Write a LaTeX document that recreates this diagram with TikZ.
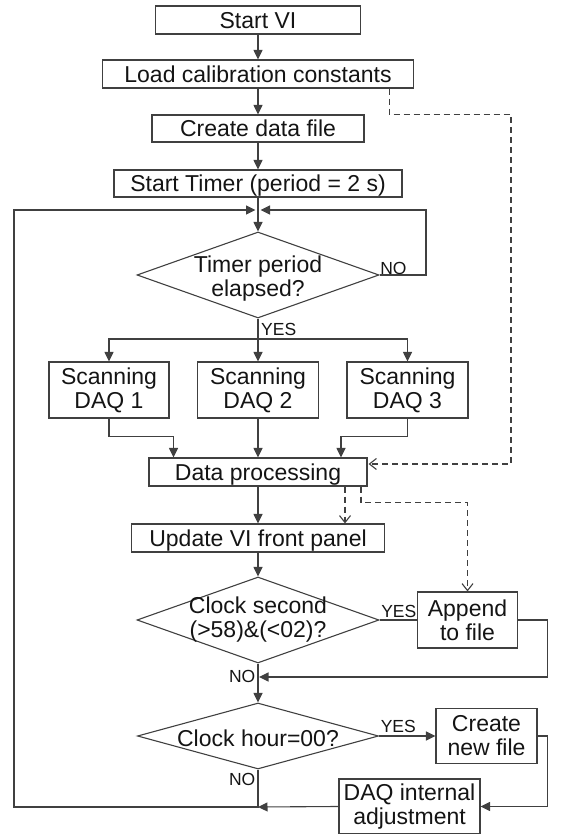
\documentclass[tikz,border=0pt]{standalone}
\usepackage{fontspec}
\setmainfont{Liberation Sans}
\usetikzlibrary{arrows.meta,shapes.geometric}

\begin{document}
\begin{tikzpicture}[x=1pt, y=1pt,
    line/.style={draw=black!75, line width=1.1pt},
    arr/.style={line, -{Triangle[length=9.5pt,width=9pt]}},
    dashline/.style={line, dash pattern=on 6pt off 4pt},
    dasharr/.style={dashline, -{Straight Barb[length=7pt,width=11pt]}},
    box/.style={draw=black!75, line width=1.1pt, rectangle, inner sep=0pt,
        align=center, text=black!92, font=\fontsize{23}{24}\selectfont},
    onebox/.style={box, text height=16.5pt, text depth=0pt},
    decision/.style={draw=black!75, line width=1.1pt, diamond, inner sep=0pt,
        minimum width=242pt, minimum height=86pt},
    dtext/.style={align=center, text=black!92, font=\fontsize{23}{24}\selectfont},
    tag/.style={text=black!92, font=\fontsize{17.5}{18}\selectfont, inner sep=0.5pt}]

    \useasboundingbox (0,0) rectangle (560,834);

    % Start-up sequence
    \node[onebox, minimum width=205pt, minimum height=28pt] (start) at (258,814) {Start VI};
    \node[onebox, minimum width=311pt, minimum height=28pt] (load) at (258,760) {Load calibration constants};
    \node[onebox, minimum width=212pt, minimum height=27pt] (create) at (258,705.5) {Create data file};
    \node[onebox, minimum width=288pt, minimum height=27pt] (timer) at (258,650.5) {Start Timer (period = 2 s)};

    \draw[arr] (start) -- (load);
    \draw[arr] (load) -- (create);
    \draw[arr] (create) -- (timer);

    % Timer check, with its NO loop
    \coordinate (join) at (258,624);
    \coordinate (noturn) at (426,624);
    \node[decision, label={[dtext, yshift=-4pt]center:{Timer period\\elapsed?}}] (tdec) at (258,559) {};
    \draw[line] (timer) -- (join);
    \draw[arr] (join) -- (tdec);
    \draw[arr, shorten >=2.5pt] (tdec.east) -| (noturn) -- (join);
    \node[tag, anchor=south west] (notimer) at (tdec.east) {NO};
    \node[tag, anchor=west] (yestimer) at (260.5,505) {YES};

    % Scanning the three DAQ units
    \coordinate (split) at (258,495);
    \node[box, minimum width=120pt, minimum height=56pt] (scan1) at (109,444) {Scanning\\DAQ 1};
    \node[box, minimum width=121pt, minimum height=56pt] (scan2) at (258,444) {Scanning\\DAQ 2};
    \node[box, minimum width=121pt, minimum height=56pt] (scan3) at (407.5,444) {Scanning\\DAQ 3};
    \draw[line] (tdec.south) -- (split);
    \draw[arr] (split) -| (scan1);
    \draw[arr] (split) -- (scan2);
    \draw[arr] (split) -| (scan3);

    % Processing
    \node[onebox, minimum width=218pt, minimum height=28pt] (proc) at (258,362) {Data processing};
    \draw[arr] (scan1.south) -- ++(0,-18) -| ([xshift=-84.5pt]proc.north);
    \draw[arr] (scan2) -- (proc);
    \draw[arr] (scan3.south) -- ++(0,-18) -| ([xshift=83pt]proc.north);

    % Calibration constants passed on to the processing
    \coordinate (calbus) at (511,370);
    \draw[dasharr, shorten >=1pt] ([xshift=-24.5pt]load.south east) -- ++(0,-26) -| (calbus) -- ([yshift=8pt]proc.east);

    % Front panel
    \node[onebox, minimum width=253pt, minimum height=28pt] (update) at (258,296) {Update VI front panel};
    \draw[arr] (proc) -- (update);
    \draw[dasharr] ([xshift=87pt]proc.south) -- ([xshift=87pt]update.north);

    % Saving once a minute
    \node[decision, label={[dtext]center:{Clock second\\(>58)\&(<02)?}}] (csec) at (258,214) {};
    \node[box, minimum width=100pt, minimum height=56pt] (append) at (467.5,214) {Append\\to file};
    \draw[arr] (update) -- (csec);
    \draw[line] (csec.east) -- (append.west);
    \node[tag, anchor=south west] (yessec) at ([xshift=1pt,yshift=2pt]csec.east) {YES};
    \draw[dasharr] ([xshift=103pt]proc.south) -- ++(0,-16) -| (append);

    \coordinate (merge) at (258,157);
    \draw[arr, shorten >=1pt] (append.east) -- ++(29,0) |- (merge);
    \node[tag, anchor=east] (nosec) at (256,158) {NO};

    % New file at midnight
    \node[decision, minimum width=241pt, minimum height=66pt,
        label={[dtext, yshift=-2pt]center:{Clock hour=00?}}] (hdec) at (258,98) {};
    \node[box, minimum width=101pt, minimum height=55pt] (newf) at (486.5,98) {Create\\new file};
    \node[box, minimum width=141pt, minimum height=55pt] (adj) at (409.5,27.5) {DAQ internal\\adjustment};
    \draw[arr] (csec.south) -- (hdec.north);
    \draw[arr] (hdec.east) -- (newf.west);
    \node[tag, anchor=south west] (yeshour) at ([xshift=1pt,yshift=3pt]hdec.east) {YES};
    \draw[arr] (newf.east) -- ++(9.5,0) |- (adj.east);
    \node[tag, anchor=east] (nohour) at (256,55) {NO};

    % Back to the timer
    \coordinate (back) at (258,27);
    \coordinate (loopcorner) at (14,27);
    \draw[arr] (adj.west) -- (back);
    \draw[arr, shorten >=2.5pt] (hdec.south) -- (back) -- (loopcorner) |- (join);
\end{tikzpicture}
\end{document}
